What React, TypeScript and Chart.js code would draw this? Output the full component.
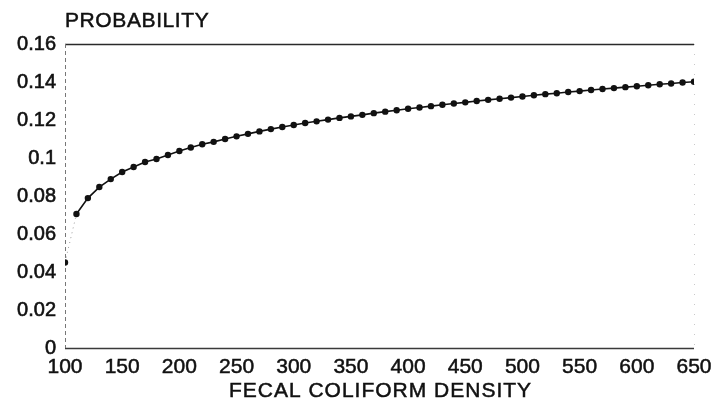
import React, { useEffect, useRef } from "react";
import { Chart, registerables } from "chart.js";

Chart.register(...registerables);

// Fecal coliform density (x) and the matching probability (y)
const densities = [
  100, 110, 120, 130, 140, 150, 160, 170, 180, 190,
  200, 210, 220, 230, 240, 250, 260, 270, 280, 290,
  300, 310, 320, 330, 340, 350, 360, 370, 380, 390,
  400, 410, 420, 430, 440, 450, 460, 470, 480, 490,
  500, 510, 520, 530, 540, 550, 560, 570, 580, 590,
  600, 610, 620, 630, 640, 650,
];

const probabilities = [
  0.045, 0.0705, 0.0789, 0.0847, 0.0889, 0.0926, 0.0953, 0.0979, 0.0995, 0.1016,
  0.1037, 0.1055, 0.1072, 0.1085, 0.11, 0.1114, 0.1127, 0.114, 0.1152, 0.1163,
  0.1174, 0.1184, 0.1193, 0.1202, 0.1211, 0.1219, 0.1227, 0.1236, 0.1244, 0.1251,
  0.1259, 0.1266, 0.1273, 0.128, 0.1287, 0.1293, 0.13, 0.1306, 0.1312, 0.1318,
  0.1324, 0.133, 0.1336, 0.1341, 0.1347, 0.1352, 0.1358, 0.1363, 0.1368, 0.1373,
  0.1378, 0.1383, 0.1388, 0.1392, 0.1397, 0.1401,
];

const xTickValues = [100, 150, 200, 250, 300, 350, 400, 450, 500, 550, 600, 650];
const yTickValues = [0, 0.02, 0.04, 0.06, 0.08, 0.1, 0.12, 0.14, 0.16];

const yAxisTitle = "PROBABILITY";
const xAxisTitle = "FECAL COLIFORM DENSITY";

const FONT = '"Liberation Sans", Arial, Helvetica, sans-serif';
const INK = "#111111";

// Draws the plot frame and the two axis titles around the chart area.
const framePlugin = {
  id: "frameAndTitles",
  beforeDatasetsDraw(chart: any) {
    const { ctx, chartArea } = chart;
    const { left, right, top, bottom } = chartArea;
    ctx.save();
    // top edge
    ctx.strokeStyle = "#2a2a2a";
    ctx.lineWidth = 1.5;
    ctx.beginPath();
    ctx.moveTo(left, top + 0.5);
    ctx.lineTo(right, top + 0.5);
    ctx.stroke();
    // bottom edge
    ctx.strokeStyle = "#3a3a3a";
    ctx.beginPath();
    ctx.moveTo(left, bottom + 0.5);
    ctx.lineTo(right, bottom + 0.5);
    ctx.stroke();
    // left edge, broken
    ctx.strokeStyle = "#777777";
    ctx.lineWidth = 1;
    ctx.setLineDash([4, 3]);
    ctx.beginPath();
    ctx.moveTo(left + 0.5, top);
    ctx.lineTo(left + 0.5, bottom);
    ctx.stroke();
    // right edge, faint dots
    ctx.strokeStyle = "#c8c8c8";
    ctx.setLineDash([1, 9]);
    ctx.beginPath();
    ctx.moveTo(right + 0.5, top);
    ctx.lineTo(right + 0.5, bottom);
    ctx.stroke();
    ctx.restore();
  },
  afterDraw(chart: any) {
    const { ctx, chartArea } = chart;
    ctx.save();
    ctx.fillStyle = INK;
    ctx.strokeStyle = INK;
    ctx.lineWidth = 0.5;
    ctx.font = `21px ${FONT}`;
    (ctx as any).letterSpacing = "0.6px";
    ctx.textAlign = "left";
    ctx.textBaseline = "alphabetic";
    ctx.fillText(yAxisTitle, chartArea.left, chartArea.top - 17);
    ctx.strokeText(yAxisTitle, chartArea.left, chartArea.top - 17);
    (ctx as any).letterSpacing = "1px";
    ctx.textAlign = "center";
    const cx = (chartArea.left + chartArea.right) / 2 + 1;
    ctx.fillText(xAxisTitle, cx, 397);
    ctx.strokeText(xAxisTitle, cx, 397);
    ctx.restore();
  },
};

export default function App() {
  const canvasRef = useRef<HTMLCanvasElement | null>(null);

  useEffect(() => {
    if (!canvasRef.current) return;
    const points = densities.map((d, i) => ({ x: d, y: probabilities[i] }));

    const chart = new Chart(canvasRef.current, {
      type: "line",
      data: {
        datasets: [
          {
            data: points,
            borderColor: INK,
            borderWidth: 1.6,
            backgroundColor: INK,
            pointRadius: 3.2,
            pointBorderWidth: 0,
            pointBackgroundColor: INK,
            tension: 0,
            segment: {
              // the opening step is drawn as a faint dotted trace
              borderColor: (c: any) => (c.p0DataIndex === 0 ? "#9a9a9a" : undefined),
              borderDash: (c: any) => (c.p0DataIndex === 0 ? [1, 4] : undefined),
              borderWidth: (c: any) => (c.p0DataIndex === 0 ? 1 : undefined),
            },
          },
        ],
      },
      options: {
        animation: false,
        responsive: true,
        maintainAspectRatio: false,
        layout: { padding: { top: 44, right: 21, left: 0, bottom: 0 } },
        plugins: {
          legend: { display: false },
          tooltip: { enabled: false },
          title: { display: false },
        },
        scales: {
          x: {
            type: "linear",
            min: 100,
            max: 650,
            afterBuildTicks: (scale: any) => {
              scale.ticks = xTickValues.map((v) => ({ value: v }));
            },
            afterFit: (scale: any) => {
              scale.height = 69;
              scale.paddingLeft = 0;
              scale.paddingRight = 0;
            },
            grid: { display: false, drawTicks: false },
            border: { display: false },
            ticks: {
              padding: 7,
              color: INK,
              textStrokeColor: INK,
              textStrokeWidth: 0.5,
              maxRotation: 0,
              autoSkip: false,
              font: { family: FONT, size: 21 },
              callback: (v: any) => String(v),
            },
          },
          y: {
            type: "linear",
            min: 0,
            max: 0.16,
            afterBuildTicks: (scale: any) => {
              scale.ticks = yTickValues.map((v) => ({ value: v }));
            },
            afterFit: (scale: any) => {
              scale.width = 65;
              scale.paddingTop = 0;
              scale.paddingBottom = 0;
            },
            grid: { display: false, drawTicks: false },
            border: { display: false },
            ticks: {
              padding: 9,
              color: INK,
              textStrokeColor: INK,
              textStrokeWidth: 0.6,
              autoSkip: false,
              font: { family: FONT, size: 20 },
              callback: (v: any) => String(Math.round(Number(v) * 100) / 100),
            },
          },
        },
      },
      plugins: [framePlugin],
    });

    return () => chart.destroy();
  }, []);

  return (
    <div
      style={{
        position: "absolute",
        left: 0,
        top: 0,
        width: 715,
        height: 417,
        background: "#ffffff",
      }}
    >
      <canvas ref={canvasRef} />
    </div>
  );
}
